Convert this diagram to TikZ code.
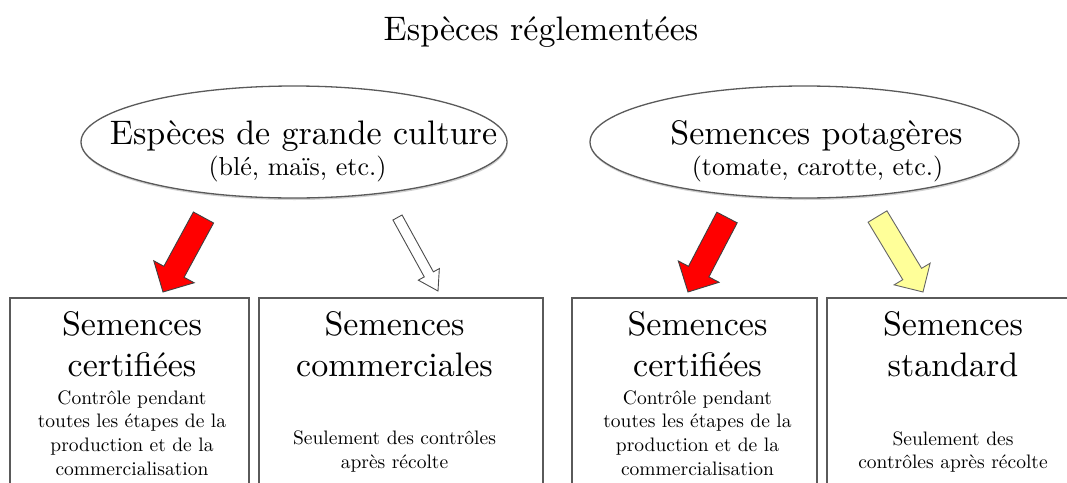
\documentclass[tikz,border=0pt]{standalone}
\usepackage{fontspec}
\setmainfont{lmroman10-regular.otf}
\usetikzlibrary{shapes.geometric,calc,shadows}
\definecolor{edgegray}{RGB}{90,90,90}
\definecolor{arrred}{RGB}{255,0,0}
\definecolor{arryel}{RGB}{255,255,153}
\newcommand{\blkarrow}[6]{%
  \coordinate (#2-neck) at ($(#3)!#6!(#2)$);
  \draw[#1] ($(#2)!#4!90:(#3)$) -- ($(#2-neck)!#4!90:(#3)$) -- ($(#2-neck)!#5!90:(#3)$) -- (#3)
    -- ($(#2-neck)!#5!-90:(#3)$) -- ($(#2-neck)!#4!-90:(#3)$) -- ($(#2)!#4!-90:(#3)$) -- cycle;
}
\begin{document}
\begin{tikzpicture}[x=1pt,y=-1pt,
  big/.style={font=\fontsize{34}{40}\selectfont, anchor=base, inner sep=0pt},
  sub/.style={font=\fontsize{26}{30}\selectfont, anchor=base, inner sep=0pt},
  small/.style={font=\fontsize{19.5}{24}\selectfont, anchor=base, inner sep=0pt},
  ell/.style={ellipse, draw=edgegray, line width=1.3pt, fill=white, minimum height=112pt, inner sep=0pt,
     drop shadow={shadow xshift=0.5pt, shadow yshift=-2pt, fill=gray!60, opacity=0.6}},
  box/.style={rectangle, draw=edgegray, line width=1.5pt, anchor=north, minimum height=230pt, inner sep=0pt},
  redarr/.style={fill=arrred, draw=black!75, line width=0.9pt, line join=miter},
  whitearr/.style={fill=white, draw=black!70, line width=0.9pt, line join=miter},
  yelarr/.style={fill=arryel, draw=black!60, line width=0.9pt, line join=miter}
]
\useasboundingbox (0,0) rectangle (1067,482);
\clip (0,0) rectangle (1067,482);

\node[big] (title) at (541,40) {Espèces réglementées};

% ellipses
\node[ell, minimum width=426pt] (e1) at (294,142) {};
\node[ell, minimum width=429pt] (e2) at (804.5,142) {};
\node[big] (e1t) at (303.5,144) {Espèces de grande culture};
\node[sub] (e1s) at (297.5,175) {(blé, maïs, etc.)};
\node[big] (e2t) at (816.5,144) {Semences potagères};
\node[sub] (e2s) at (817.5,175) {(tomate, carotte, etc.)};

% boxes
\node[box, minimum width=239pt] (b1) at (129.5,297) {};
\node[box, minimum width=284pt] (b2) at (401,297) {};
\node[box, minimum width=245pt] (b3) at (694.5,297) {};
\node[box, minimum width=260pt] (b4) at (957,297) {};

% box 1
\node[big] (b1a) at (132,335) {Semences};
\node[big] (b1b) at (132,376) {certifiées};
\node[small] (b1c) at (132,404) {Contrôle pendant};
\node[small] (b1d) at (132,427) {toutes les étapes de la};
\node[small] (b1e) at (132,451) {production et de la};
\node[small] (b1f) at (132,475) {commercialisation};
% box 2
\node[big] (b2a) at (394.5,335) {Semences};
\node[big] (b2b) at (394.5,376) {commerciales};
\node[small] (b2c) at (394.5,444) {Seulement des contrôles};
\node[small] (b2d) at (394.5,468) {après récolte};
% box 3
\node[big] (b3a) at (697.5,335) {Semences};
\node[big] (b3b) at (697.5,376) {certifiées};
\node[small] (b3c) at (697.5,404) {Contrôle pendant};
\node[small] (b3d) at (697.5,427) {toutes les étapes de la};
\node[small] (b3e) at (697.5,451) {production et de la};
\node[small] (b3f) at (697.5,475) {commercialisation};
% box 4
\node[big] (b4a) at (953,335) {Semences};
\node[big] (b4b) at (953,376) {standard};
\node[small] (b4c) at (953,445) {Seulement des};
\node[small] (b4d) at (953,468) {contrôles après récolte};

% arrows
\coordinate (a1s) at (203.5,217.5); \coordinate (a1e) at (163,292);
\coordinate (a2s) at (397.5,217.5); \coordinate (a2e) at (438,291);
\coordinate (a3s) at (727,217.5);   \coordinate (a3e) at (688,292);
\coordinate (a4s) at (877.5,216.5); \coordinate (a4e) at (923,292);
\blkarrow{redarr}{a1s}{a1e}{11.5pt}{23pt}{23pt}
\blkarrow{whitearr}{a2s}{a2e}{5.2pt}{12pt}{19pt}
\blkarrow{redarr}{a3s}{a3e}{11.5pt}{23pt}{23pt}
\blkarrow{yelarr}{a4s}{a4e}{11pt}{21pt}{21pt}
\end{tikzpicture}
\end{document}
